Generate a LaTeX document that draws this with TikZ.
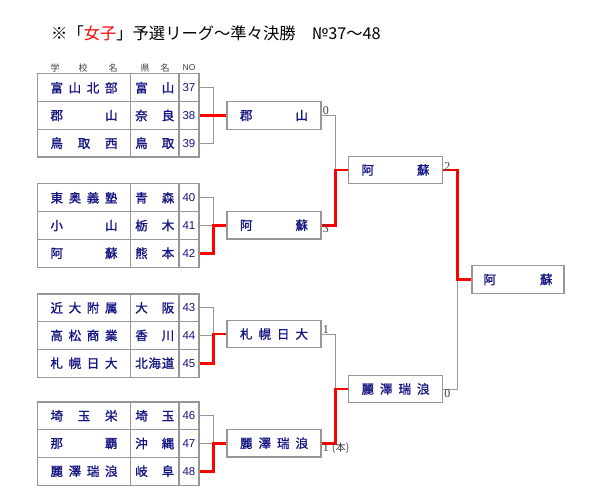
\documentclass[tikz,border=0pt]{standalone}
\usepackage{fontspec}
\setmainfont{Liberation Serif}
\newfontfamily\jpn[FakeBold=1.3]{Noto Sans CJK JP}
\newfontfamily\jpt{Noto Sans CJK JP}
\newfontfamily\arl{Liberation Sans}
\definecolor{navy}{RGB}{20,20,130}
\definecolor{lgray}{RGB}{150,150,150}
\definecolor{sgray}{RGB}{60,60,60}
\newcommand\teamrow[4]{%
  \node[cellbox, minimum width=93pt] (s#1) at (84,#2) {\makebox[67pt][s]{#3}};
  \node[cellbox, minimum width=48.5pt] (p#1) at (154.75,#2) {\makebox[39pt][s]{#4}};
  \node[cellbox, minimum width=20pt, font=\arl\fontsize{11.5}{12}\selectfont] (n#1) at (189,#2) {#1};
}
\begin{document}
\begin{tikzpicture}[x=1pt,y=-1pt,
  cellbox/.style={draw=lgray, line width=1.1pt, minimum height=27.7pt, inner sep=0pt, text=navy, font=\jpn\fontsize{12.5}{13}\selectfont},
  winbox/.style={draw=lgray, line width=1.3pt, minimum width=94pt, minimum height=27.5pt, inner sep=0pt, text=navy, font=\jpn\fontsize{12.5}{13}\selectfont},
  gl/.style={draw=lgray, line width=0.9pt},
  rl/.style={draw=red, line width=2.6pt},
  score/.style={text=sgray, font=\fontsize{12}{12}\selectfont, inner sep=1pt},
  hdr/.style={text=sgray, font=\jpt\fontsize{9}{9}\selectfont, inner sep=0pt}]
\useasboundingbox (0,0) rectangle (600,500);

% title
\node[anchor=west, inner sep=0pt, font=\jpt\fontsize{16.3}{16.3}\selectfont] (title) at (51,33)
  {※「\textcolor{red}{女子}」予選リーグ～準々決勝　№37～48};

% headers
\node[hdr] (h1) at (55,68) {学};
\node[hdr] (h2) at (83,68) {校};
\node[hdr] (h3) at (113,68) {名};
\node[hdr] (h4) at (145,68) {県};
\node[hdr] (h5) at (165,68) {名};
\node[hdr, font=\arl\fontsize{8.5}{9}\selectfont] (h6) at (189,68) {NO};

% team rows
\teamrow{37}{87.8}{富\hfill 山\hfill 北\hfill 部}{富\hfill 山}
\teamrow{38}{115.5}{郡\hfill 山}{奈\hfill 良}
\teamrow{39}{143.2}{鳥\hfill 取\hfill 西}{鳥\hfill 取}
\teamrow{40}{197.8}{東\hfill 奥\hfill 義\hfill 塾}{青\hfill 森}
\teamrow{41}{225.5}{小\hfill 山}{栃\hfill 木}
\teamrow{42}{253.2}{阿\hfill 蘇}{熊\hfill 本}
\teamrow{43}{307.8}{近\hfill 大\hfill 附\hfill 属}{大\hfill 阪}
\teamrow{44}{335.5}{高\hfill 松\hfill 商\hfill 業}{香\hfill 川}
\teamrow{45}{363.2}{札\hfill 幌\hfill 日\hfill 大}{北\hfill 海\hfill 道}
\teamrow{46}{415.8}{埼\hfill 玉\hfill 栄}{埼\hfill 玉}
\teamrow{47}{443.5}{那\hfill 覇}{沖\hfill 縄}
\teamrow{48}{471.2}{麗\hfill 澤\hfill 瑞\hfill 浪}{岐\hfill 阜}

% second round
\node[winbox] (b1) at (274,115.5) {\makebox[68pt][s]{郡\hfill 山}};
\node[winbox] (b2) at (274,225.2) {\makebox[68pt][s]{阿\hfill 蘇}};
\node[winbox] (b3) at (274,334) {\makebox[68pt][s]{札\hfill 幌\hfill 日\hfill 大}};
\node[winbox] (b4) at (274,443.2) {\makebox[68pt][s]{麗\hfill 澤\hfill 瑞\hfill 浪}};

% semifinal
\node[winbox] (c1) at (395.5,170) {\makebox[68pt][s]{阿\hfill 蘇}};
\node[winbox] (c2) at (395.5,389) {\makebox[68pt][s]{麗\hfill 澤\hfill 瑞\hfill 浪}};

% final
\node[winbox, minimum width=92pt] (f) at (518,279.5) {\makebox[69pt][s]{阿\hfill 蘇}};

% first-round brackets
\draw[gl] (n37.east) -- ++(14,0) |- (n39.east);
\draw[rl] (n38.east) -- (b1.west);
\draw[gl] (n40.east) -- ++(14,0) |- (n41.east);
\draw[rl] (n42.east) -- ++(14,0) |- (b2.west);
\draw[gl] (n43.east) -- ++(14,0) |- (n44.east);
\draw[rl] (n45.east) -- ++(14,0) |- (b3.west);
\draw[gl] (n46.east) -- ++(14,0) |- (n47.east);
\draw[rl] (n48.east) -- ++(14,0) |- (b4.west);

% second-round brackets
\draw[gl] (b1.east) -- ++(14,0) |- (c1.west);
\draw[rl] (b2.east) -- ++(14,0) |- (c1.west);
\draw[gl] (b3.east) -- ++(14,0) |- (c2.west);
\draw[rl] (b4.east) -- ++(14,0) |- (c2.west);

% final bracket
\draw[gl] (c2.east) -- ++(14.5,0) |- (f.west);
\draw[rl] (c1.east) -- ++(14.5,0) |- (f.west);

% scores
\node[score, anchor=south west] (s1) at ([yshift=-0.5pt]b1.east) {0};
\node[score, anchor=north west] (s2) at ([yshift=1.5pt]b2.east) {3};
\node[score, anchor=south west] (s3) at ([yshift=-1.5pt]c1.east) {2};
\node[score, anchor=south west] (s4) at ([yshift=-0.5pt]b3.east) {1};
\node[score, anchor=north west] (s5) at ([yshift=1.5pt]b4.east) {1 {\jpt\fontsize{10.5}{11}\selectfont (本)}};
\node[score, anchor=north west] (s6) at ([yshift=0.5pt]c2.east) {0};
\end{tikzpicture}
\end{document}
